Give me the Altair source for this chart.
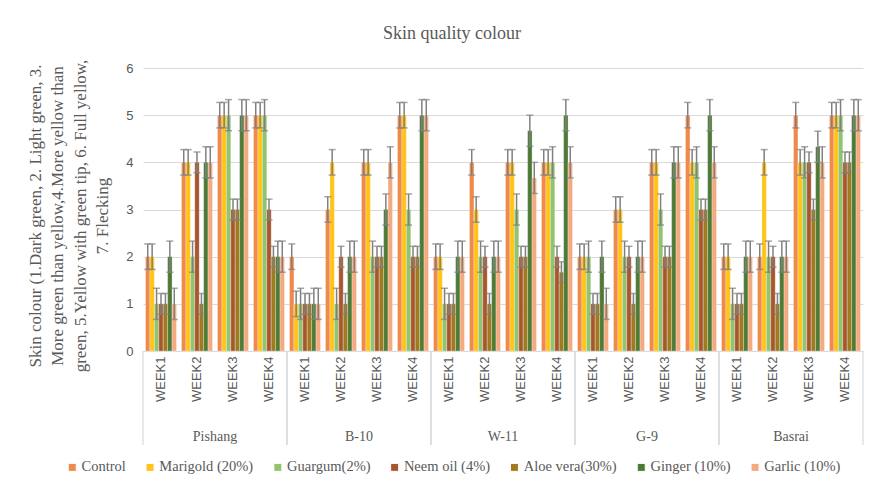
import altair as alt
import pandas as pd

cultivars = ["Pishang", "B-10", "W-11", "G-9", "Basrai"]
weeks = ["WEEK1", "WEEK2", "WEEK3", "WEEK4"]
treatments = ["Control", "Marigold (20%)", "Guargum(2%)", "Neem oil (4%)",
              "Aloe vera(30%)", "Ginger (10%)", "Garlic (10%)"]
colors = ["#EF8A4B", "#FFC31A", "#92C46F", "#A8562F", "#A07B1C", "#4E7A36", "#F4AA80"]

# values: cultivar-major, week-minor (Pishang W1..W4, B-10 W1..W4, ...)
control  = [2, 4, 5, 5,   2, 3, 4, 5,   2, 4, 4, 4,      2, 3, 4, 5,   2, 2, 5, 5]
marigold = [2, 4, 5, 5,   1, 4, 4, 5,   2, 3, 4, 4,      2, 3, 4, 4,   2, 4, 4, 5]
guargum  = [1, 2, 5, 5,   1, 1, 2, 3,   1, 2, 3, 4,      2, 2, 3, 4,   1, 2, 4, 5]
neem     = [1, 4, 3, 3,   1, 2, 2, 2,   1, 2, 2, 2,      1, 2, 2, 3,   1, 2, 4, 4]
aloe     = [1, 1, 3, 2,   1, 1, 2, 2,   1, 1, 2, 1.67,   1, 1, 2, 3,   1, 1, 3, 4]
ginger   = [2, 4, 5, 2,   1, 2, 3, 5,   2, 2, 4.67, 5,   2, 2, 4, 5,   2, 2, 4.33, 5]
garlic   = [1, 4, 5, 2,   1, 2, 4, 5,   2, 2, 3.67, 4,   1, 2, 4, 4,   2, 2, 4, 5]
errors   = [0.27, 0.27, 0.33, 0.22, 0.22, 0.33, 0.33]

series = [control, marigold, guargum, neem, aloe, ginger, garlic]
keys = [c + "|" + w for c in cultivars for w in weeks]
rows = []
for ti, (t, vals) in enumerate(zip(treatments, series)):
    for i, v in enumerate(vals):
        rows.append(dict(key=keys[i], cultivar=cultivars[i // 4], week=weeks[i % 4],
                         treatment=t, value=v, lo=v - errors[ti], hi=v + errors[ti]))
df = pd.DataFrame(rows)
groups = pd.DataFrame(dict(cultivar=cultivars,
                           first=[c + "|WEEK1" for c in cultivars],
                           mid=[c + "|WEEK2" for c in cultivars],
                           last=[c + "|WEEK4" for c in cultivars]))

W, H = 720, 283
GRAY = "#595959"
SERIF = "Liberation Serif"
SANS = "Liberation Sans"

xscale = alt.Scale(domain=keys, paddingInner=0, paddingOuter=0)
xaxis = alt.Axis(title=None, labelAngle=-90, labelFont=SANS, labelFontSize=13,
                 labelColor=GRAY, ticks=False, domainColor="#d9d9d9", domainWidth=1.2,
                 labelPadding=5, labelExpr="split(datum.label, '|')[1]")
xenc = alt.X("key:N", scale=xscale, axis=xaxis)
xoff = alt.XOffset("treatment:N", sort=treatments,
                   scale=alt.Scale(domain=treatments, paddingInner=0, paddingOuter=0.57))
color = alt.Color("treatment:N", sort=treatments,
                  scale=alt.Scale(domain=treatments, range=colors),
                  legend=alt.Legend(title=None, orient="none", direction="horizontal",
                                    legendX=-78, legendY=392,
                                    symbolType="square", symbolSize=64, symbolStrokeWidth=1,
                                    labelFont=SERIF, labelFontSize=14.5, labelColor=GRAY,
                                    columnPadding=16.8, labelOffset=2))
yenc = alt.Y("value:Q", scale=alt.Scale(domain=[0, 6]),
             axis=alt.Axis(title=["Skin colour (1.Dark green, 2. Light green, 3.",
                                  "More green than yellow,4.More yellow than",
                                  "green, 5.Yellow with green tip, 6. Full yellow,",
                                  "7. Flecking"],
                           titleFont=SERIF, titleFontSize=17, titleFontWeight="normal",
                           titleColor=GRAY, titleLineHeight=22.5, titlePadding=14,
                           titleY=H / 2 + 6,
                           values=[0, 1, 2, 3, 4, 5, 6], labelFont=SANS, labelFontSize=13,
                           labelColor=GRAY, labelPadding=10, ticks=False, domain=False,
                           gridColor="#d9d9d9", gridWidth=1.2))

base = alt.Chart(df)
bars = base.mark_bar(stroke="#ffffff", strokeOpacity=0.35, strokeWidth=0.8).encode(
    x=xenc, xOffset=xoff, y=yenc, color=color)
err = base.mark_rule(color="#808080", strokeWidth=1.5).encode(
    x=xenc, xOffset=xoff, y="lo:Q", y2="hi:Q")
cap_top = base.mark_tick(color="#808080", size=7, thickness=1.5).encode(
    x=xenc, xOffset=xoff, y="hi:Q")
cap_bot = base.mark_tick(color="#808080", size=7, thickness=1.5).encode(
    x=xenc, xOffset=xoff, y="lo:Q")

gbase = alt.Chart(groups)
sep_l = gbase.mark_rule(color="#d9d9d9", strokeWidth=1.2).encode(
    x=alt.X("first:N", scale=xscale, bandPosition=0, axis=xaxis),
    y=alt.value(H), y2=alt.value(H + 94))
sep_r = gbase.mark_rule(color="#d9d9d9", strokeWidth=1.2).encode(
    x=alt.X("last:N", scale=xscale, bandPosition=1, axis=xaxis),
    y=alt.value(H), y2=alt.value(H + 94))
labels = gbase.mark_text(font=SERIF, fontSize=14, color=GRAY, baseline="middle").encode(
    x=alt.X("mid:N", scale=xscale, bandPosition=1, axis=xaxis),
    y=alt.value(H + 86), text="cultivar:N")

chart = alt.layer(bars, err, cap_top, cap_bot, sep_l, sep_r, labels).properties(
    width=W, height=H,
    title=alt.TitleParams("Skin quality colour", font=SERIF, fontSize=18, fontWeight="normal",
                          color=GRAY, anchor="middle", offset=16, dx=-51),
    padding={"left": 18, "top": 17, "right": 2, "bottom": 5},
).configure_view(stroke=None)

chart.save("out.html", embed_options={"renderer": "svg", "actions": False})
